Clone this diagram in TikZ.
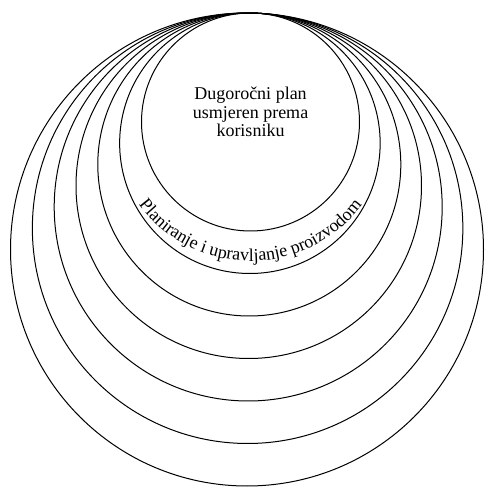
\documentclass[tikz,border=0pt]{standalone}
\usepackage{fontspec}
\setmainfont{Liberation Serif}
\usetikzlibrary{decorations.text}

\newcommand\planfont{\fontsize{18}{18.5}\selectfont}

\begin{document}
\begin{tikzpicture}[x=1pt, y=1pt]
  \useasboundingbox (0,0) rectangle (485,488);
  \tikzset{ring/.style={draw=black, line width=1pt}}
  % seven rings, all touching at the top
  \foreach \r/\cx/\name in {
    109/250.5/A, 130.25/249.9/B, 151.5/249.3/C, 172.75/248.75/D,
    194/248.2/E, 215.25/247.6/F, 236.5/247/G}
  {
    \coordinate (\name) at (\cx,{475-\r});
    \draw[ring] (\name) circle[radius=\r];
  }
  \node[align=center, font=\planfont] (plan) at (250.5,376)
    {Dugoročni plan\\usmjeren prema\\korisniku};
  \path[decorate, decoration={text along path, text align=center,
      text={|\planfont|Planiranje i upravljanje proizvodom}}]
    (A) ++(200:139) arc[start angle=200, end angle=340, radius=139];
\end{tikzpicture}
\end{document}
